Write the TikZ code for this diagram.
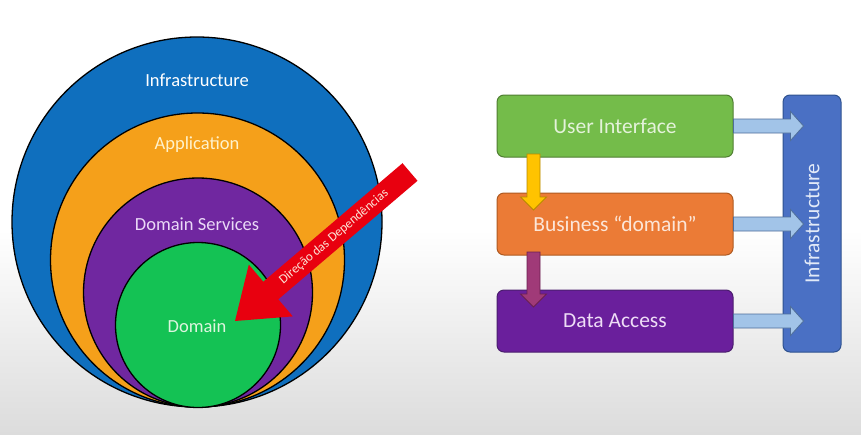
\documentclass[tikz,border=0pt]{standalone}
\usepackage{fontspec}
\setmainfont{Carlito}
\usetikzlibrary{calc}
\definecolor{cBlue}{HTML}{0F6FBE}
\definecolor{cOrange}{HTML}{F5A01A}
\definecolor{cPurple}{HTML}{7027A0}
\definecolor{cGreen}{HTML}{14C254}
\definecolor{bGreen}{HTML}{74BC4A}
\definecolor{bGreenD}{HTML}{507E32}
\definecolor{bOrange}{HTML}{EB7B36}
\definecolor{bOrangeD}{HTML}{AE5A21}
\definecolor{bPurple}{HTML}{6A1F9C}
\definecolor{bPurpleD}{HTML}{4B1E6E}
\definecolor{bBlue}{HTML}{4A70C4}
\definecolor{bBlueD}{HTML}{2F528F}
\definecolor{aBlue}{HTML}{A2C4E8}
\definecolor{aBlueD}{HTML}{4F6E9A}
\definecolor{aYellow}{HTML}{FFC300}
\definecolor{aYellowD}{HTML}{B88A00}
\definecolor{aMag}{HTML}{A03A78}
\definecolor{aMagD}{HTML}{6A2050}
\definecolor{aRed}{HTML}{E8000F}
\definecolor{bgGray}{HTML}{DCDCDC}
\definecolor{tYellow}{HTML}{FFF2CC}
\definecolor{tLav}{HTML}{EAD9F7}
\definecolor{tGreen}{HTML}{DDF5DF}
\definecolor{tUI}{HTML}{E4F2DA}
\definecolor{tBiz}{HTML}{FCE6D8}
\definecolor{tData}{HTML}{EEDDF6}
\definecolor{tInf}{HTML}{E2EAF8}
\begin{document}
\begin{tikzpicture}[x=1pt,y=-1pt,
  ring/.style={circle,draw=black,line width=1.3pt,inner sep=0pt},
  ringlabel/.style={font=\fontsize{18.5}{20}\selectfont},
  box/.style={rounded corners=7pt,line width=1pt,inner sep=0pt},
  boxlabel/.style={font=\fontsize{21.5}{24}\selectfont},
  barrow/.style={fill=aBlue,draw=aBlueD,line width=0.8pt,line join=miter}
]
\useasboundingbox (0,0) rectangle (861,434);
\fill[white] (0,0) rectangle (861,434);
\shade[top color=white,bottom color=bgGray] (0,230) rectangle (861,434);

% concentric circles
\node[ring,fill=cBlue,minimum size=370pt] (cinf) at (197,222) {};
\node[ring,fill=cOrange,minimum size=294pt] (capp) at (197.5,260) {};
\node[ring,fill=cPurple,minimum size=229pt] (cds) at (198,292.5) {};
\node[ring,fill=cGreen,minimum size=165pt] (cdom) at (198,325) {};

\node[ringlabel,text=white] (linf) at (197,80) {Infrastructure};
\node[ringlabel,text=tYellow] (lapp) at (197,145) {Application};
\node[ringlabel,text=tLav] (lds) at (197,224) {Domain Services};
\node[ringlabel,text=tGreen] (ldom) at (197,326) {Domain};

% red dependency arrow
\fill[aRed] (402.5,163.2) -- (417.5,180.8) -- (278.3,299.3) -- (292.8,316.4)
  -- (235,321) -- (248.8,264.6) -- (263.3,281.7) -- cycle;
\node[text=tBiz,rotate=40.4,inner sep=0pt,font=\fontsize{13}{14}\selectfont] (ldir) at (334,237)
  {Direção das Dependências};

% right diagram boxes
\node[box,fill=bGreen,draw=bGreenD,minimum width=236pt,minimum height=62pt] (ui) at (615,126) {};
\node[box,fill=bOrange,draw=bOrangeD,minimum width=236pt,minimum height=62pt] (biz) at (615,224) {};
\node[box,fill=bPurple,draw=bPurpleD,minimum width=236pt,minimum height=62pt] (data) at (615,321) {};
\node[box,fill=bBlue,draw=bBlueD,minimum width=58pt,minimum height=257pt] (bar) at (812,223.5) {};

\node[boxlabel,text=tUI] (lui) at (ui) {User Interface};
\node[boxlabel,text=tBiz] (lbiz) at (biz) {Business “domain”};
\node[boxlabel,text=tData] (ldata) at (data) {Data Access};
\node[boxlabel,text=tInf,rotate=90] (lbar) at (bar) {Infrastructure};

% vertical arrows
\coordinate (ya) at (533.5,154);
\coordinate (yb) at (533.5,210);
\draw[fill=aYellow,draw=aYellowD,line width=0.8pt]
  ($(ya)+(-6.5,0)$) -- ($(yb)+(-6.5,-13)$) -- ($(yb)+(-13,-13)$) -- (yb)
  -- ($(yb)+(13,-13)$) -- ($(yb)+(6.5,-13)$) -- ($(ya)+(6.5,0)$) -- cycle;
\coordinate (ma) at (533.5,252);
\coordinate (mb) at (533.5,307);
\draw[fill=aMag,draw=aMagD,line width=0.8pt]
  ($(ma)+(-6.5,0)$) -- ($(mb)+(-6.5,-13)$) -- ($(mb)+(-13,-13)$) -- (mb)
  -- ($(mb)+(13,-13)$) -- ($(mb)+(6.5,-13)$) -- ($(ma)+(6.5,0)$) -- cycle;

% horizontal arrows to the infrastructure bar
\foreach \b in {ui,biz,data}{
  \coordinate (s) at ($(\b.east)+(0,0)$);
  \coordinate (t) at ($(\b.east)+(70,0)$);
  \draw[barrow] ($(s)+(0,-7)$) -- ($(t)+(-13,-7)$) -- ($(t)+(-13,-14.5)$) -- (t)
    -- ($(t)+(-13,14.5)$) -- ($(t)+(-13,7)$) -- ($(s)+(0,7)$) -- cycle;
}
\end{tikzpicture}
\end{document}
